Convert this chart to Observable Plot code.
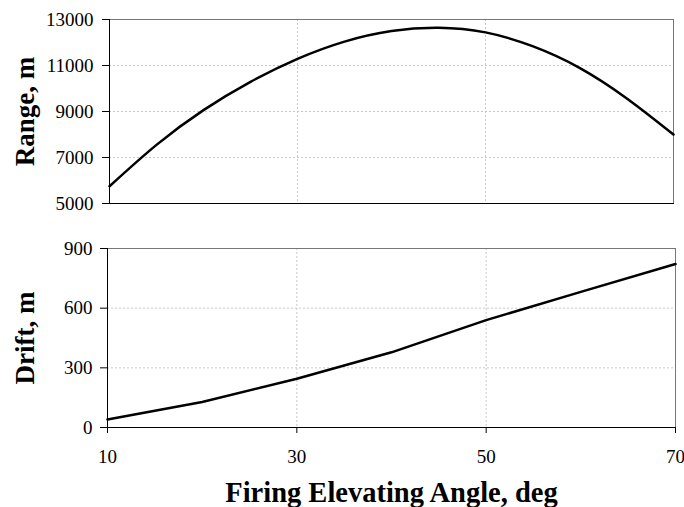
<!DOCTYPE html>
<html>
<head>
<meta charset="utf-8">
<script src="https://cdn.jsdelivr.net/npm/d3@7"></script>
<script src="https://cdn.jsdelivr.net/npm/@observablehq/plot@0.6"></script>
<style>
  body { margin: 0; background: #fff; }
  #chart svg { display: block; }
</style>
</head>
<body>
<div id="chart"></div>
<script>
const rangeAngles = [10, 15, 20, 25, 30, 35, 40, 45, 50, 55, 60, 65, 70];
const rangeValues = [5750, 7550, 9060, 10290, 11290, 12040, 12500, 12640, 12440, 11840, 10900, 9580, 8000];
const driftAngles = [10, 20, 30, 40, 50, 60, 70];
const driftValues = [40, 128, 245, 378, 540, 682, 822];
const xTicks = [10, 30, 50, 70];
const rangeTicks = [5000, 7000, 9000, 11000, 13000];
const driftTicks = [0, 300, 600, 900];

const rangeData = rangeAngles.map((a, i) => ({angle: a, value: rangeValues[i]}));
const driftData = driftAngles.map((a, i) => ({angle: a, value: driftValues[i]}));

const font = "'Liberation Serif', 'Times New Roman', serif";
const gridStyle = {stroke: "#c8c8c8", strokeOpacity: 1, strokeDasharray: "2,2"};

const rangeChart = Plot.plot({
  width: 684,
  height: 225,
  marginLeft: 109,
  marginRight: 11,
  marginTop: 19,
  marginBottom: 22,
  style: {fontFamily: font, fontSize: "19px", color: "#000", background: "#fff"},
  x: {domain: [10, 70], ticks: xTicks},
  y: {domain: [5000, 13000], ticks: rangeTicks},
  marks: [
    Plot.gridX(xTicks.filter(t => t !== 10 && t !== 70), gridStyle),
    Plot.gridY(rangeTicks.filter(t => t !== 5000 && t !== 13000), gridStyle),
    Plot.axisX({ticks: [], label: null}),
    Plot.axisY({ticks: rangeTicks, tickSize: 7, tickPadding: 9, tickFormat: d => String(d),
      label: "Range, m", labelAnchor: "center", labelArrow: "none", labelOffset: 95}),
    Plot.frame({anchor: "top", stroke: "#777"}),
    Plot.frame({anchor: "right", stroke: "#777"}),
    Plot.frame({anchor: "left", stroke: "#000"}),
    Plot.frame({anchor: "bottom", stroke: "#000"}),
    Plot.line(rangeData, {x: "angle", y: "value", stroke: "#000", strokeWidth: 2.5, curve: "natural"})
  ]
});

const driftChart = Plot.plot({
  width: 684,
  height: 282,
  marginLeft: 107,
  marginRight: 9,
  marginTop: 23,
  marginBottom: 80,
  style: {fontFamily: font, fontSize: "19px", color: "#000", background: "#fff"},
  x: {domain: [10, 70], ticks: xTicks},
  y: {domain: [0, 900], ticks: driftTicks},
  marks: [
    Plot.gridX(xTicks.filter(t => t !== 10 && t !== 70), gridStyle),
    Plot.gridY(driftTicks.filter(t => t !== 0 && t !== 900), gridStyle),
    Plot.axisX({ticks: xTicks, tickSize: 6, tickPadding: 16, tickFormat: d => String(d),
      label: "Firing Elevating Angle, deg", labelAnchor: "center", labelArrow: "none", labelOffset: 74}),
    Plot.axisY({ticks: driftTicks, tickSize: 7, tickPadding: 8, tickFormat: d => String(d),
      label: "Drift, m", labelAnchor: "center", labelArrow: "none", labelOffset: 93}),
    Plot.frame({anchor: "top", stroke: "#777"}),
    Plot.frame({anchor: "right", stroke: "#777"}),
    Plot.frame({anchor: "left", stroke: "#000"}),
    Plot.frame({anchor: "bottom", stroke: "#000"}),
    Plot.line(driftData, {x: "angle", y: "value", stroke: "#000", strokeWidth: 2.5})
  ]
});

// Make axis labels bold and larger
for (const svg of [rangeChart, driftChart]) {
  svg.querySelectorAll("g[aria-label='y-axis label'] text").forEach(t => {
    t.setAttribute("font-weight", "bold");
    t.setAttribute("font-size", "27px");
  });
  svg.querySelectorAll("g[aria-label='x-axis label'] text").forEach(t => {
    t.setAttribute("font-weight", "bold");
    t.setAttribute("font-size", "28.5px");
  });
}

document.getElementById("chart").append(rangeChart, driftChart);
</script>
</body>
</html>
